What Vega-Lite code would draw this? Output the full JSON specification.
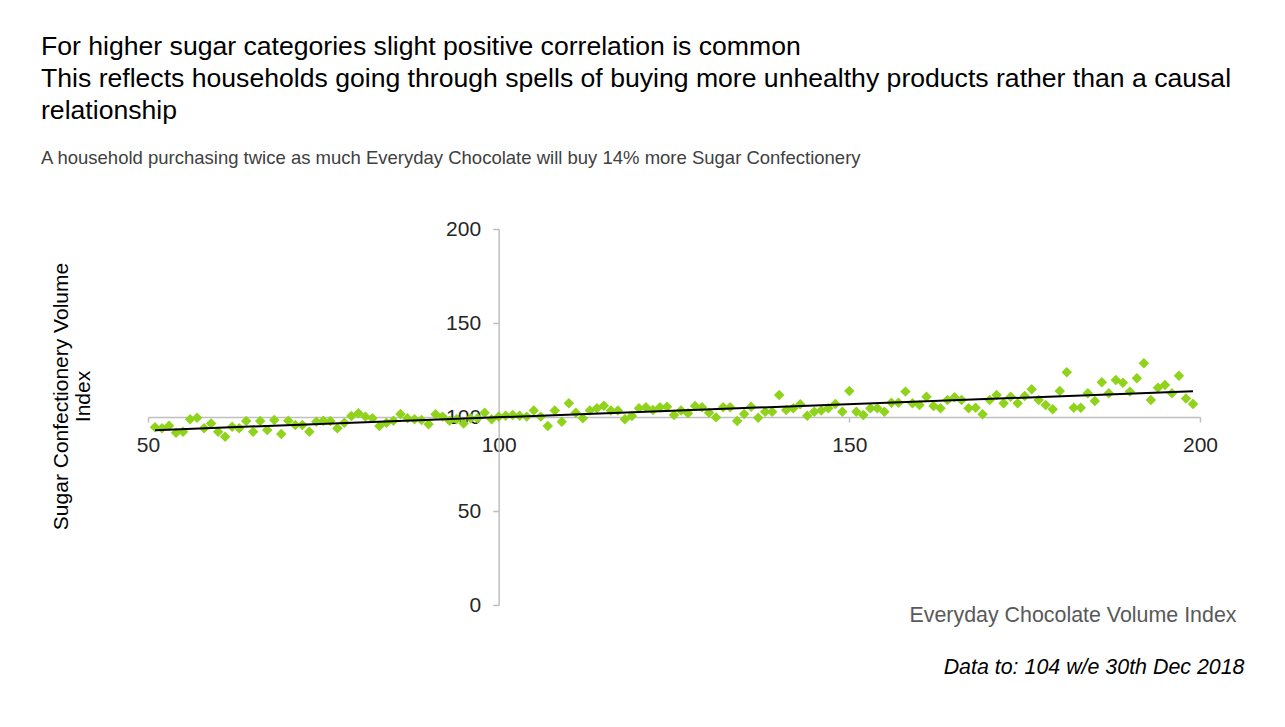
{
  "$schema": "https://vega.github.io/schema/vega-lite/v6.json",
  "autosize": "none",
  "width": 1052,
  "height": 376,
  "padding": {"left": 148, "top": 229, "right": 85, "bottom": 122},
  "background": "white",
  "config": {
    "font": "Liberation Sans",
    "view": {"stroke": null},
    "axis": {"grid": false}
  },
  "title": {
    "text": ["For higher sugar categories slight positive correlation is common", "This reflects households going through spells of buying more unhealthy products rather than a causal", "relationship"],
    "subtitle": "A household purchasing twice as much Everyday Chocolate will buy 14% more Sugar Confectionery",
    "anchor": "start",
    "frame": "group",
    "dx": -107,
    "offset": 51,
    "font": "Liberation Sans",
    "fontSize": 26.6,
    "fontWeight": "normal",
    "color": "#000000",
    "lineHeight": 32,
    "subtitleFont": "Liberation Sans",
    "subtitleFontSize": 18.5,
    "subtitleColor": "#404040",
    "subtitlePadding": 24
  },
  "datasets": {
    "points": [
      {"choc": 51, "sugar": 94.5}, {"choc": 52, "sugar": 94.0}, {"choc": 53, "sugar": 95.4}, {"choc": 54, "sugar": 91.6},
      {"choc": 55, "sugar": 92.2}, {"choc": 56, "sugar": 98.8}, {"choc": 57, "sugar": 99.6}, {"choc": 58, "sugar": 94.0},
      {"choc": 59, "sugar": 96.6}, {"choc": 60, "sugar": 92.2}, {"choc": 61, "sugar": 89.5}, {"choc": 62, "sugar": 94.8},
      {"choc": 63, "sugar": 94.0}, {"choc": 64, "sugar": 97.9}, {"choc": 65, "sugar": 92.2}, {"choc": 66, "sugar": 97.9},
      {"choc": 67, "sugar": 93.1}, {"choc": 68, "sugar": 98.4}, {"choc": 69, "sugar": 91.0}, {"choc": 70, "sugar": 98.0},
      {"choc": 71, "sugar": 95.7}, {"choc": 72, "sugar": 95.7}, {"choc": 73, "sugar": 92.2}, {"choc": 74, "sugar": 97.5},
      {"choc": 75, "sugar": 98.0}, {"choc": 76, "sugar": 97.9}, {"choc": 77, "sugar": 94.0}, {"choc": 78, "sugar": 97.0},
      {"choc": 79, "sugar": 100.5}, {"choc": 80, "sugar": 102.0}, {"choc": 81, "sugar": 100.2}, {"choc": 82, "sugar": 99.3},
      {"choc": 83, "sugar": 95.2}, {"choc": 84, "sugar": 96.9}, {"choc": 85, "sugar": 98.0}, {"choc": 86, "sugar": 101.6},
      {"choc": 87, "sugar": 99.3}, {"choc": 88, "sugar": 98.8}, {"choc": 89, "sugar": 98.4}, {"choc": 90, "sugar": 96.1},
      {"choc": 91, "sugar": 101.4}, {"choc": 92, "sugar": 100.2}, {"choc": 93, "sugar": 98.0}, {"choc": 94, "sugar": 98.8},
      {"choc": 95, "sugar": 96.6}, {"choc": 96, "sugar": 99.3}, {"choc": 97, "sugar": 99.3}, {"choc": 98, "sugar": 102.3},
      {"choc": 99, "sugar": 98.8}, {"choc": 100, "sugar": 100.2}, {"choc": 101, "sugar": 100.7}, {"choc": 102, "sugar": 101.1},
      {"choc": 103, "sugar": 100.7}, {"choc": 104, "sugar": 100.2}, {"choc": 105, "sugar": 103.4}, {"choc": 106, "sugar": 100.2},
      {"choc": 107, "sugar": 95.2}, {"choc": 108, "sugar": 103.4}, {"choc": 109, "sugar": 97.5}, {"choc": 110, "sugar": 107.3},
      {"choc": 111, "sugar": 102.3}, {"choc": 112, "sugar": 99.3}, {"choc": 113, "sugar": 103.4}, {"choc": 114, "sugar": 104.6},
      {"choc": 115, "sugar": 106.0}, {"choc": 116, "sugar": 103.4}, {"choc": 117, "sugar": 103.4}, {"choc": 118, "sugar": 98.8},
      {"choc": 119, "sugar": 100.5}, {"choc": 120, "sugar": 104.6}, {"choc": 121, "sugar": 105.2}, {"choc": 122, "sugar": 103.7},
      {"choc": 123, "sugar": 105.2}, {"choc": 124, "sugar": 105.5}, {"choc": 125, "sugar": 101.1}, {"choc": 126, "sugar": 103.4},
      {"choc": 127, "sugar": 102.0}, {"choc": 128, "sugar": 105.9}, {"choc": 129, "sugar": 105.2}, {"choc": 130, "sugar": 102.3},
      {"choc": 131, "sugar": 99.8}, {"choc": 132, "sugar": 105.2}, {"choc": 133, "sugar": 105.2}, {"choc": 134, "sugar": 97.9},
      {"choc": 135, "sugar": 101.6}, {"choc": 136, "sugar": 105.5}, {"choc": 137, "sugar": 99.6}, {"choc": 138, "sugar": 102.8},
      {"choc": 139, "sugar": 102.8}, {"choc": 140, "sugar": 111.7}, {"choc": 141, "sugar": 103.7}, {"choc": 142, "sugar": 104.6},
      {"choc": 143, "sugar": 106.8}, {"choc": 144, "sugar": 100.7}, {"choc": 145, "sugar": 102.8}, {"choc": 146, "sugar": 103.4},
      {"choc": 147, "sugar": 104.6}, {"choc": 148, "sugar": 106.9}, {"choc": 149, "sugar": 102.8}, {"choc": 150, "sugar": 113.8},
      {"choc": 151, "sugar": 102.8}, {"choc": 152, "sugar": 101.1}, {"choc": 153, "sugar": 104.6}, {"choc": 154, "sugar": 104.6},
      {"choc": 155, "sugar": 102.8}, {"choc": 156, "sugar": 107.6}, {"choc": 157, "sugar": 107.6}, {"choc": 158, "sugar": 113.5},
      {"choc": 159, "sugar": 107.3}, {"choc": 160, "sugar": 106.4}, {"choc": 161, "sugar": 110.8}, {"choc": 162, "sugar": 105.9},
      {"choc": 163, "sugar": 104.6}, {"choc": 164, "sugar": 109.0}, {"choc": 165, "sugar": 110.5}, {"choc": 166, "sugar": 109.0},
      {"choc": 167, "sugar": 104.6}, {"choc": 168, "sugar": 104.9}, {"choc": 169, "sugar": 101.4}, {"choc": 170, "sugar": 109.0},
      {"choc": 171, "sugar": 111.7}, {"choc": 172, "sugar": 107.3}, {"choc": 173, "sugar": 110.8}, {"choc": 174, "sugar": 107.3},
      {"choc": 175, "sugar": 111.2}, {"choc": 176, "sugar": 114.7}, {"choc": 177, "sugar": 109.0}, {"choc": 178, "sugar": 106.4},
      {"choc": 179, "sugar": 104.1}, {"choc": 180, "sugar": 113.8}, {"choc": 181, "sugar": 123.8}, {"choc": 182, "sugar": 104.9},
      {"choc": 183, "sugar": 104.9}, {"choc": 184, "sugar": 112.6}, {"choc": 185, "sugar": 108.5}, {"choc": 186, "sugar": 118.5},
      {"choc": 187, "sugar": 112.6}, {"choc": 188, "sugar": 119.7}, {"choc": 189, "sugar": 118.2}, {"choc": 190, "sugar": 113.5},
      {"choc": 191, "sugar": 120.6}, {"choc": 192, "sugar": 128.6}, {"choc": 193, "sugar": 109.0}, {"choc": 194, "sugar": 115.6},
      {"choc": 195, "sugar": 117.0}, {"choc": 196, "sugar": 112.6}, {"choc": 197, "sugar": 122.0}, {"choc": 198, "sugar": 109.9},
      {"choc": 199, "sugar": 106.9}
    ],
    "trend": [
      {"choc": 51, "sugar": 93.0},
      {"choc": 199, "sugar": 113.7}
    ]
  },
  "resolve": {"axis": {"x": "independent"}},
  "encoding": {
    "y": {
      "field": "sugar", "type": "quantitative",
      "scale": {"domain": [0, 200], "nice": false, "zero": true},
      "axis": {
        "orient": "left", "offset": -350.67,
        "values": [0, 50, 100, 150, 200],
        "domainColor": "#bfbfbf", "domainWidth": 1.5,
        "tickColor": "#bfbfbf", "tickSize": 6, "tickWidth": 1.5,
        "labelFontSize": 21, "labelColor": "#262626", "labelPadding": 12,
        "title": ["Sugar Confectionery Volume", "Index"],
        "titleFontSize": 21, "titleFontWeight": "normal", "titleColor": "#000000",
        "titleLineHeight": 22,
        "titleAngle": 270, "titleAlign": "center", "titleBaseline": "middle",
        "titleX": -437.67, "titleY": 167
      }
    }
  },
  "layer": [
    {
      "data": {"name": "points"},
      "mark": {"type": "point", "shape": "diamond", "filled": true, "size": 110, "color": "#8FD31A", "opacity": 1},
      "encoding": {
        "x": {
          "field": "choc", "type": "quantitative",
          "scale": {"domain": [50, 200], "nice": false, "zero": false},
          "axis": {
            "orient": "bottom", "offset": -188,
            "values": [50, 100, 150, 200],
            "domainColor": "#bfbfbf", "domainWidth": 1.5,
            "tickColor": "#bfbfbf", "tickSize": 5, "tickWidth": 1.5,
            "labelFontSize": 21, "labelColor": "#262626", "labelPadding": 12,
            "labelFlush": false,
            "title": "Everyday Chocolate Volume Index",
            "titleFontSize": 21.4, "titleFontWeight": "normal", "titleColor": "#595959",
            "titleAlign": "right", "titleAnchor": null, "titleBaseline": "middle",
            "titleX": 1088, "titleY": 198
          }
        }
      }
    },
    {
      "data": {"name": "trend"},
      "mark": {"type": "line", "color": "#000000", "strokeWidth": 2},
      "encoding": {
        "x": {
          "field": "choc", "type": "quantitative",
          "axis": {
            "orient": "bottom", "labels": false, "ticks": false, "domain": false,
            "title": "Data to: 104 w/e 30th Dec 2018",
            "titleFontSize": 21.4, "titleFontStyle": "italic", "titleFontWeight": "normal", "titleColor": "#000000",
            "titleAlign": "right", "titleAnchor": null, "titleBaseline": "middle",
            "titleX": 1096, "titleY": 62
          }
        }
      }
    }
  ]
}
